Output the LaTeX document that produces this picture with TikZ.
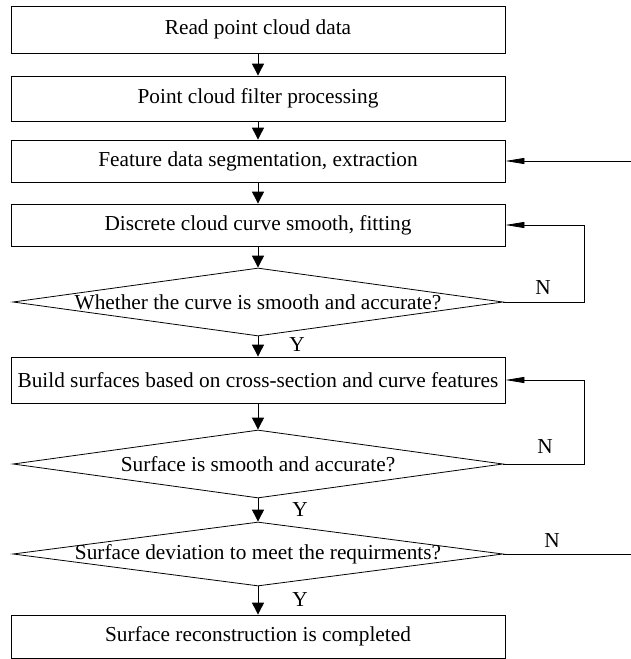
\documentclass[tikz,border=0pt]{standalone}
\usepackage{fontspec}
\setmainfont{Liberation Serif}
\usetikzlibrary{shapes.geometric}
\usetikzlibrary{arrows.meta}

\begin{document}
\begin{tikzpicture}[x=1pt, y=-1pt,
    box/.style={draw, line width=0.8pt, minimum width=494pt, inner sep=0pt, font=\fontsize{21.3}{24}\selectfont},
    decision/.style={draw, diamond, line width=0.8pt, minimum width=490pt, inner sep=0pt},
    lbl/.style={font=\fontsize{21.3}{24}\selectfont},
    flow/.style={-{Triangle[length=12pt, width=12pt]}, line width=0.9pt},
    back/.style={-{Triangle[length=19pt, width=6pt]}, line width=0.8pt}]
    \useasboundingbox (0,0) rectangle (631,659);

    % Process boxes
    \node[box, minimum height=47pt] (read) at (258,29.5) {Read point cloud data};
    \node[box, minimum height=45pt] (filter) at (258,98.5) {Point cloud filter processing};
    \node[box, minimum height=42pt] (segment) at (258,161) {Feature data segmentation, extraction};
    \node[box, minimum height=42pt] (fit) at (258,225) {Discrete cloud curve smooth, fitting};
    \node[box, minimum height=46pt] (build) at (258,380) {Build surfaces based on cross-section and curve features};
    \node[box, minimum height=43pt] (done) at (258,636.5) {Surface reconstruction is completed};

    % Decisions
    \node[decision, minimum height=68pt] (curve) at (258,302) {};
    \node[lbl] (curvetxt) at (curve) {Whether the curve is smooth and accurate?};
    \node[decision, minimum height=68pt] (surf) at (258,464) {};
    \node[lbl] (surftxt) at (surf) {Surface is smooth and accurate?};
    \node[decision, minimum height=64pt] (dev) at (258,554) {};
    \node[lbl] (devtxt) at (dev) {Surface deviation to meet the requirments?};

    % Main flow
    \draw[flow] (read) -- (filter);
    \draw[flow] (filter) -- (segment);
    \draw[flow] (segment) -- (fit);
    \draw[flow] (fit) -- (curve);
    \draw[flow] (curve) -- (build);
    \draw[flow] (build) -- (surf);
    \draw[flow] (surf) -- (dev);
    \draw[flow] (dev) -- (done);
    \node[lbl] (y1) at (297,345) {Y};
    \node[lbl] (y2) at (300,510) {Y};
    \node[lbl] (y3) at (300,600) {Y};

    % Feedback lines
    \coordinate (inA) at (631,161);
    \coordinate (loopA) at (584,302);
    \coordinate (loopB) at (584,464);
    \coordinate (outC) at (631,554);
    \draw[back] (inA) -- (segment.east);
    \draw[back] (curve.east) -- (loopA) |- (fit.east);
    \draw[back] (surf.east) -- (loopB) |- (build.east);
    \draw[line width=0.8pt] (dev.east) -- (outC);
    \node[lbl] (n1) at (543,288) {N};
    \node[lbl] (n2) at (545,447) {N};
    \node[lbl] (n3) at (552,541) {N};
\end{tikzpicture}
\end{document}
